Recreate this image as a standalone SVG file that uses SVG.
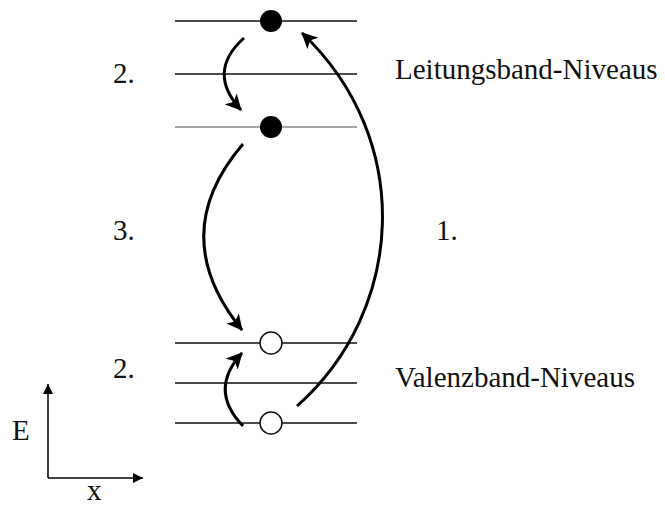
<svg xmlns="http://www.w3.org/2000/svg" width="665" height="507" viewBox="0 0 665 507">
<defs>
<marker id="ah" markerUnits="userSpaceOnUse" markerWidth="18" markerHeight="16" refX="15" refY="8" orient="auto">
<path d="M0,0 L16,8 L0,16 L4,8 Z" fill="#000"/>
</marker>
<marker id="ax" markerUnits="userSpaceOnUse" markerWidth="12" markerHeight="10" refX="10" refY="5" orient="auto">
<path d="M0,0 L10,5 L0,10 Z" fill="#000"/>
</marker>
<style>
.lvl{stroke:#111;stroke-width:1.5}
.lvl2{stroke:#888;stroke-width:1.3}
.arr{fill:none;stroke:#000;stroke-width:3;marker-end:url(#ah)}
.t{font-family:"Liberation Serif","Times New Roman","DejaVu Serif",serif;font-size:29px;fill:#111}
</style>
</defs>
<rect width="665" height="507" fill="#fff"/>
<g id="levels">
<line class="lvl" x1="175" y1="21" x2="357" y2="21"/>
<line class="lvl" x1="175" y1="74" x2="357" y2="74"/>
<line class="lvl2" x1="175" y1="127" x2="357" y2="127"/>
<line class="lvl" x1="175" y1="343" x2="357" y2="343"/>
<line class="lvl" x1="175" y1="383" x2="357" y2="383"/>
<line class="lvl" x1="175" y1="423" x2="357" y2="423"/>
</g>
<g id="electron1"><circle cx="271" cy="21" r="11" fill="#000"/></g>
<g id="electron2"><circle cx="271" cy="127" r="11" fill="#000"/></g>
<g id="hole1"><circle cx="271" cy="343" r="11" fill="#fff" stroke="#111" stroke-width="1.5"/></g>
<g id="hole2"><circle cx="271" cy="423" r="11" fill="#fff" stroke="#111" stroke-width="1.5"/></g>
<g id="connectors">
<path class="arr" d="M244,38 Q206,72 241,110"/>
<path class="arr" d="M243,144 Q165,235 242,330"/>
<path class="arr" d="M243,426 Q208,390 242,353"/>
<path class="arr" d="M297,406 C405,310 415,140 302,33"/>
</g>
<g id="axes">
<line x1="48" y1="478" x2="48" y2="384" stroke="#000" stroke-width="1.5" marker-end="url(#ax)"/>
<line x1="48" y1="478" x2="143" y2="478" stroke="#000" stroke-width="1.5" marker-end="url(#ax)"/>
</g>
<g id="labels">
<text class="t" x="113" y="83">2.</text>
<text class="t" x="113" y="240">3.</text>
<text class="t" x="113" y="378">2.</text>
<text class="t" x="436" y="240">1.</text>
<text class="t" x="395" y="79">Leitungsband-Niveaus</text>
<text class="t" x="395" y="387">Valenzband-Niveaus</text>
<text class="t" x="12" y="440">E</text>
<text class="t" x="87" y="500">x</text>
</g>
</svg>
